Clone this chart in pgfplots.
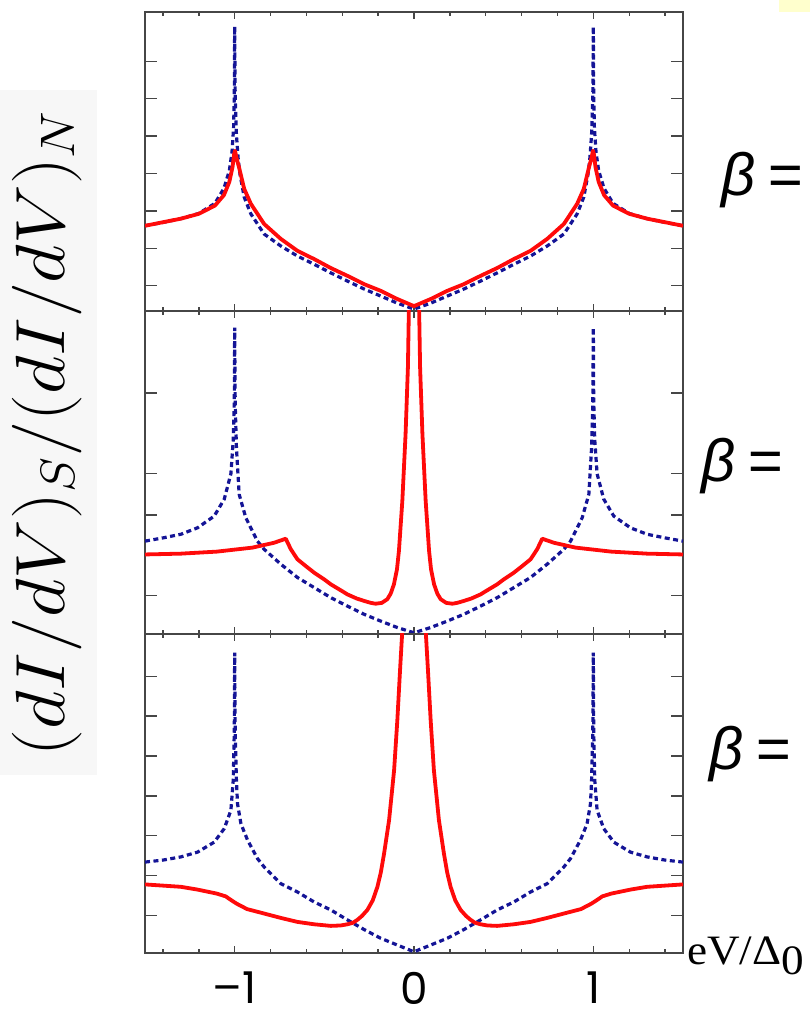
\documentclass[border=0pt]{standalone}
\usepackage{fontspec}
\usepackage{graphicx}
\usepackage{pgfplots}
\pgfplotsset{compat=1.18}
\usepackage{pgfplotstable}

\newfontfamily\tickfont{Poppins}
\newfontfamily\labelfont{Liberation Serif}
\newfontfamily\betafont{Liberation Sans}

\definecolor{dosblue}{RGB}{20,20,150}
\definecolor{tunred}{RGB}{255,10,10}
\definecolor{framegray}{RGB}{70,70,70}
\definecolor{notepad}{RGB}{255,255,205}

% normal-state d-wave density of states (dashed reference curves)
\pgfplotstableread{
x y
-1.500 2.28
-1.400 2.37
-1.300 2.47
-1.200 2.61
-1.110 2.88
-1.060 3.28
-1.030 3.75
-1.015 4.25
-1.006 4.90
-1.002 5.80
-1.000 7.61
-0.997 5.70
-0.990 4.70
-0.980 4.05
-0.970 3.65
-0.947 3.05
-0.910 2.60
-0.836 2.06
-0.743 1.74
-0.650 1.47
-0.557 1.25
-0.464 1.02
-0.371 0.80
-0.279 0.59
-0.186 0.40
-0.093 0.21
0.000 0.05
0.093 0.21
0.186 0.40
0.279 0.59
0.371 0.80
0.464 1.02
0.557 1.25
0.650 1.47
0.743 1.74
0.836 2.06
0.910 2.60
0.947 3.05
0.970 3.65
0.980 4.05
0.990 4.70
0.997 5.70
1.000 7.61
1.002 5.80
1.006 4.90
1.015 4.25
1.030 3.75
1.060 3.28
1.110 2.88
1.200 2.61
1.300 2.47
1.400 2.37
1.500 2.28
}\bluea

\pgfplotstableread{
x y
-1.500 2.28
-1.300 2.47
-1.200 2.60
-1.110 2.82
-1.060 3.10
-1.030 3.45
-1.012 3.85
-1.003 4.20
-0.998 4.29
-0.990 4.10
-0.975 3.83
-0.947 3.27
-0.910 2.87
-0.836 2.33
-0.743 1.93
-0.650 1.61
-0.557 1.39
-0.464 1.15
-0.371 0.94
-0.279 0.72
-0.186 0.54
-0.093 0.32
0.000 0.13
0.093 0.32
0.186 0.54
0.279 0.72
0.371 0.94
0.464 1.15
0.557 1.39
0.650 1.61
0.743 1.93
0.836 2.33
0.910 2.87
0.947 3.27
0.975 3.83
0.990 4.10
0.998 4.29
1.003 4.20
1.012 3.85
1.030 3.45
1.060 3.10
1.110 2.82
1.200 2.60
1.300 2.47
1.500 2.28
}\reda

\pgfplotstableread{
x y
-1.500 2.30
-1.400 2.38
-1.300 2.47
-1.207 2.63
-1.114 2.92
-1.058 3.34
-1.021 3.97
-1.008 4.80
-1.002 5.80
-1.000 7.59
-0.997 5.70
-0.990 4.60
-0.975 3.46
-0.938 2.88
-0.873 2.30
-0.836 2.10
-0.743 1.73
-0.650 1.40
-0.557 1.15
-0.464 0.90
-0.371 0.69
-0.279 0.49
-0.186 0.32
-0.093 0.16
0.000 0.03
0.093 0.16
0.186 0.32
0.279 0.49
0.371 0.69
0.464 0.90
0.557 1.15
0.650 1.40
0.743 1.73
0.836 2.10
0.873 2.30
0.938 2.88
0.975 3.46
0.990 4.60
0.997 5.70
1.000 7.59
1.002 5.80
1.008 4.80
1.021 3.97
1.058 3.34
1.114 2.92
1.207 2.63
1.300 2.47
1.400 2.38
1.500 2.30
}\blueb

\pgfplotstableread{
x y
-1.500 1.97
-1.300 1.99
-1.100 2.04
-0.900 2.14
-0.780 2.26
-0.715 2.36
-0.700 2.22
-0.687 2.10
-0.650 1.85
-0.600 1.67
-0.557 1.52
-0.500 1.35
-0.464 1.23
-0.400 1.06
-0.371 0.98
-0.320 0.88
-0.279 0.82
-0.240 0.77
-0.214 0.75
-0.180 0.77
-0.149 0.86
-0.130 1.00
-0.112 1.23
-0.095 1.60
-0.084 2.06
-0.065 3.30
-0.047 4.95
-0.034 6.60
-0.025 9.00
0.000 30.0
0.025 9.00
0.034 6.60
0.047 4.95
0.065 3.30
0.084 2.06
0.095 1.60
0.112 1.23
0.130 1.00
0.149 0.86
0.180 0.77
0.214 0.75
0.240 0.77
0.279 0.82
0.320 0.88
0.371 0.98
0.400 1.06
0.464 1.23
0.500 1.35
0.557 1.52
0.600 1.67
0.650 1.85
0.687 2.10
0.700 2.22
0.715 2.36
0.780 2.26
0.900 2.14
1.100 2.04
1.300 1.99
1.500 1.97
}\redb

\pgfplotstableread{
x y
-1.500 2.28
-1.400 2.33
-1.300 2.41
-1.207 2.53
-1.114 2.78
-1.058 3.12
-1.021 3.58
-1.008 4.33
-1.002 5.60
-1.000 7.53
-0.997 5.50
-0.990 4.30
-0.984 3.74
-0.965 3.24
-0.928 2.83
-0.873 2.37
-0.836 2.16
-0.743 1.74
-0.650 1.53
-0.557 1.28
-0.464 1.08
-0.371 0.83
-0.279 0.59
-0.186 0.37
-0.093 0.20
0.000 0.03
0.093 0.20
0.186 0.37
0.279 0.59
0.371 0.83
0.464 1.08
0.557 1.28
0.650 1.53
0.743 1.74
0.836 2.16
0.873 2.37
0.928 2.83
0.965 3.24
0.984 3.74
0.990 4.30
0.997 5.50
1.000 7.53
1.002 5.60
1.008 4.33
1.021 3.58
1.058 3.12
1.114 2.78
1.207 2.53
1.300 2.41
1.400 2.33
1.500 2.28
}\bluec

\pgfplotstableread{
x y
-1.500 1.72
-1.300 1.66
-1.207 1.59
-1.100 1.49
-1.050 1.42
-1.021 1.33
-0.990 1.24
-0.965 1.18
-0.930 1.10
-0.836 0.99
-0.743 0.88
-0.650 0.78
-0.557 0.72
-0.464 0.68
-0.410 0.69
-0.371 0.72
-0.340 0.76
-0.316 0.83
-0.290 0.93
-0.260 1.08
-0.230 1.32
-0.204 1.66
-0.185 2.02
-0.167 2.49
-0.139 3.33
-0.111 4.58
-0.093 5.83
-0.078 7.08
-0.065 8.10
-0.040 14.0
0.000 25.0
0.040 14.0
0.065 8.10
0.078 7.08
0.093 5.83
0.111 4.58
0.139 3.33
0.167 2.49
0.185 2.02
0.204 1.66
0.230 1.32
0.260 1.08
0.290 0.93
0.316 0.83
0.340 0.76
0.371 0.72
0.410 0.69
0.464 0.68
0.557 0.72
0.650 0.78
0.743 0.88
0.836 0.99
0.930 1.10
0.965 1.18
0.990 1.24
1.021 1.33
1.050 1.42
1.100 1.49
1.207 1.59
1.300 1.66
1.500 1.72
}\redc

\pgfplotsset{
  panel/.style={
    scale only axis, width=538bp,
    anchor=south west,
    xmin=-1.5, xmax=1.5, ymin=0, ymax=8,
    axis line style={framegray, line width=1.4bp},
    every tick/.style={framegray, line width=1.4bp},
    tick align=inside, tick pos=both,
    xtick={-1,0,1},
    minor xtick={-1.4,-1.2,-0.8,-0.6,-0.4,-0.2,0.2,0.4,0.6,0.8,1.2,1.4},
    xtick style={/pgfplots/major tick length=7bp,/pgfplots/minor tick length=4bp},
    ytick style={/pgfplots/major tick length=12bp},
    xticklabels={}, yticklabels={},
    clip=true,
  },
  dos/.style={color=dosblue, line width=3.2bp, dash pattern=on 5bp off 3.5bp, no markers},
  cond/.style={color=tunred, line width=3.8bp, no markers, line join=round},
}

\begin{document}
\begin{tikzpicture}
\useasboundingbox (0bp,0bp) rectangle (810bp,1018bp);
\clip (0bp,0bp) rectangle (810bp,1018bp);

% shaded strip behind the vertical label, small note tab at the top
\fill[black!3] (0bp,243bp) rectangle (97bp,928bp);
\fill[notepad] (779bp,1006bp) rectangle (810bp,1018bp);

% top panel
\begin{axis}[panel, at={(145bp,707bp)}, height=299bp,
  ytick={0.68,1.68,2.68,3.68,4.68,5.68,6.68}]
  \addplot[dos] table {\bluea};
  \addplot[cond] table {\reda};
\end{axis}

% middle panel
\begin{axis}[panel, at={(145bp,384bp)}, height=323bp,
  ytick={0.95,2.95,3.97,5.97}]
  \addplot[dos] table {\blueb};
  \addplot[cond] table {\redb};
\end{axis}

% bottom panel
\begin{axis}[panel, at={(145bp,65bp)}, height=319bp,
  ytick={0.94,1.94,2.94,3.94,4.94,5.94,6.94},
  xticklabels={–1,0,1},
  xticklabel style={font=\tickfont\fontsize{44}{46}\selectfont, inner sep=0pt, yshift=-19bp}]
  \addplot[dos] table {\bluec};
  \addplot[cond] table {\redc};
\end{axis}

% axis titles
\node[rotate=90, inner sep=0pt] at (47bp,585bp)
  {\scalebox{3.66}[3.37]{\huge$(dI/dV)_S/(dI/dV)_N$}};
\node[anchor=base west, inner sep=0pt] at (687bp,53bp)
  {\scalebox{1.08}[1]{\labelfont\fontsize{42}{44}\selectfont eV/Δ\raisebox{-10bp}{0}}};

% coupling labels
\node[anchor=base west, inner sep=0pt, font=\betafont\itshape\fontsize{60}{62}\selectfont] at (721bp,822bp) {β\hspace{12bp}=};
\node[anchor=base west, inner sep=0pt, font=\betafont\itshape\fontsize{60}{62}\selectfont] at (701bp,536bp) {β\hspace{12bp}=};
\node[anchor=base west, inner sep=0pt, font=\betafont\itshape\fontsize{60}{62}\selectfont] at (709bp,248bp) {β\hspace{12bp}=};
\end{tikzpicture}
\end{document}
